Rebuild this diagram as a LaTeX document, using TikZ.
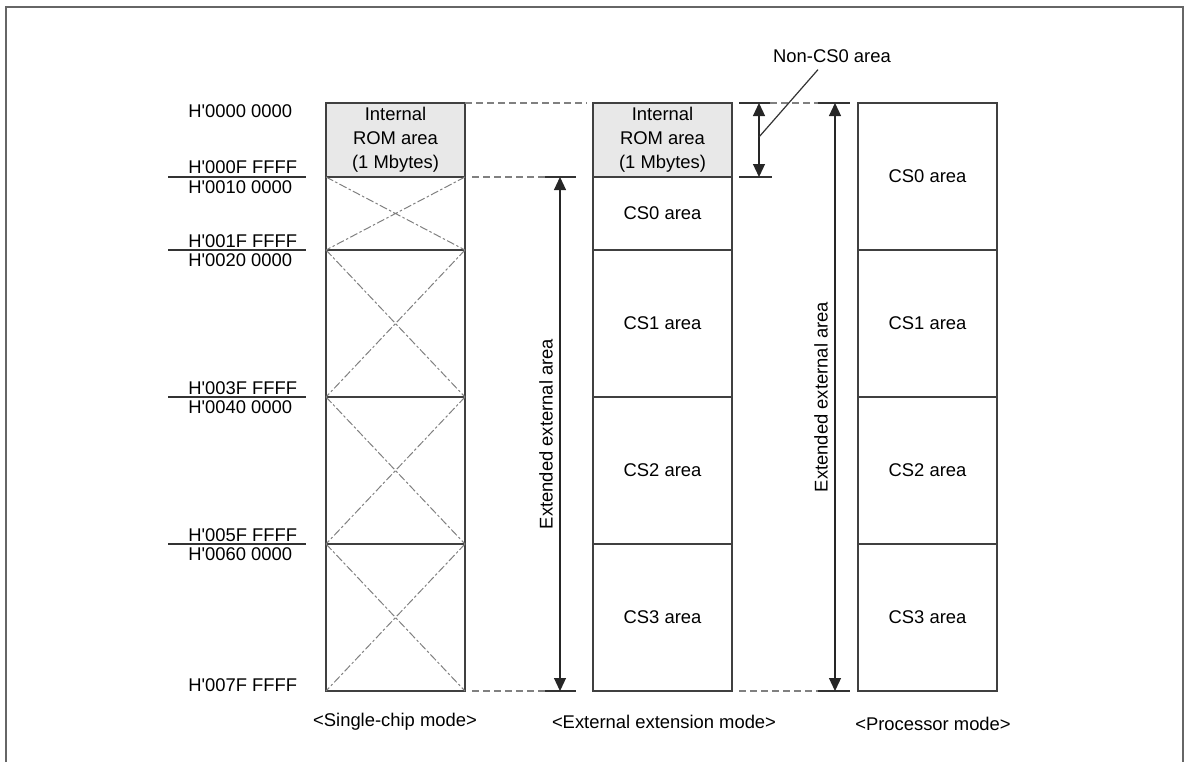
\documentclass[tikz,border=0pt]{standalone}
\usepackage{fontspec}
\setmainfont{Liberation Sans}
\usetikzlibrary{arrows.meta, positioning}

\begin{document}
\begin{tikzpicture}[
      x=0.5pt, y=-0.5pt,
      node distance=0pt,
      font=\fontsize{9.2}{12}\selectfont,
      area/.style={draw=black!75, line width=0.6pt, minimum width=69.5pt, inner sep=0pt,
                   outer sep=0pt, align=center},
      rom/.style={area, fill=black!9, minimum height=37pt},
      xcross/.style={draw=black!50, line width=0.5pt, dash pattern=on 4pt off 1.2pt on 1.2pt off 1.2pt},
      guide/.style={draw=black!50, line width=0.6pt, dash pattern=on 3.5pt off 2pt},
      tick/.style={draw=black!80, line width=0.6pt},
      dim/.style={draw=black!85, line width=0.6pt,
                  {Triangle[length=6.5pt, width=6pt]}-{Triangle[length=6.5pt, width=6pt]}},
      addr/.style={anchor=west, inner sep=0pt}
    ]
    \useasboundingbox (0,0) rectangle (1189,762);
    \draw[draw=black!60, line width=0.8pt] (6,762) -- (6,7) -- (1183,7) -- (1183,762);

    \node[rom, anchor=north west] (sc0) at (326,103) {Internal\\ROM area\\(1 Mbytes)};
    \node[area, below=of sc0, minimum height=36.5pt] (sc1) {};
    \node[area, below=of sc1, minimum height=73.5pt] (sc2) {};
    \node[area, below=of sc2, minimum height=73.5pt] (sc3) {};
    \node[area, below=of sc3, minimum height=73.5pt] (sc4) {};
    \foreach \n in {sc1,sc2,sc3,sc4}
      \draw[xcross] (\n.north west) -- (\n.south east) (\n.north east) -- (\n.south west);

    \node[rom, anchor=north west] (ee0) at (593,103) {Internal\\ROM area\\(1 Mbytes)};
    \node[area, below=of ee0, minimum height=36.5pt] (ee1) {CS0 area};
    \node[area, below=of ee1, minimum height=73.5pt] (ee2) {CS1 area};
    \node[area, below=of ee2, minimum height=73.5pt] (ee3) {CS2 area};
    \node[area, below=of ee3, minimum height=73.5pt] (ee4) {CS3 area};

    \node[area, anchor=north west, minimum height=73.5pt] (pm1) at (858,103) {CS0 area};
    \node[area, below=of pm1, minimum height=73.5pt] (pm2) {CS1 area};
    \node[area, below=of pm2, minimum height=73.5pt] (pm3) {CS2 area};
    \node[area, below=of pm3, minimum height=73.5pt] (pm4) {CS3 area};

    \foreach \y/\t [count=\i] in {111/0000 0000, 167/000F FFFF, 187/0010 0000, 241/001F FFFF,
        260/0020 0000, 388/003F FFFF, 407/0040 0000, 535/005F FFFF, 554/0060 0000, 685/007F FFFF}
      \node[addr] (a\i) at (188,\y) {H\textquotesingle\t};
    \foreach \y in {177,250,397,544}
      \draw[tick] (168,\y) -- (306,\y);

    \coordinate (l1t) at (560,177);
    \coordinate (l1b) at (560,691);
    \draw[guide] (sc0.north east) -- (587,103);
    \draw[guide] (472,177) -- (545,177);
    \draw[guide] (472,691) -- (545,691);
    \draw[tick] (545,177) -- (576,177);
    \draw[tick] (545,691) -- (576,691);
    \draw[dim] (l1b) -- node[sloped, above] {Extended external area} (l1t);

    \coordinate (nct) at (759,103);
    \coordinate (ncb) at (759,177);
    \coordinate (ncm) at (759,137);
    \coordinate (r1t) at (835,103);
    \coordinate (r1b) at (835,691);
    \draw[tick] (739,103) -- (770,103);
    \draw[tick] (739,177) -- (772,177);
    \draw[guide] (770,103) -- (818,103);
    \draw[tick] (818,103) -- (850,103);
    \draw[guide] (739,691) -- (818,691);
    \draw[tick] (818,691) -- (850,691);
    \draw[dim] (ncb) -- (nct);
    \draw[dim] (r1b) -- node[sloped, above] {Extended external area} (r1t);
    \node (nc) at (832,56) {Non-CS0 area};
    \draw[tick] ([xshift=-7pt]nc.south) -- (ncm);

    \node (m1) at (395,722) {<Single-chip mode>};
    \node (m2) at (664,722) {<External extension mode>};
    \node (m3) at (933,724) {<Processor mode>};
  \end{tikzpicture}
\end{document}
